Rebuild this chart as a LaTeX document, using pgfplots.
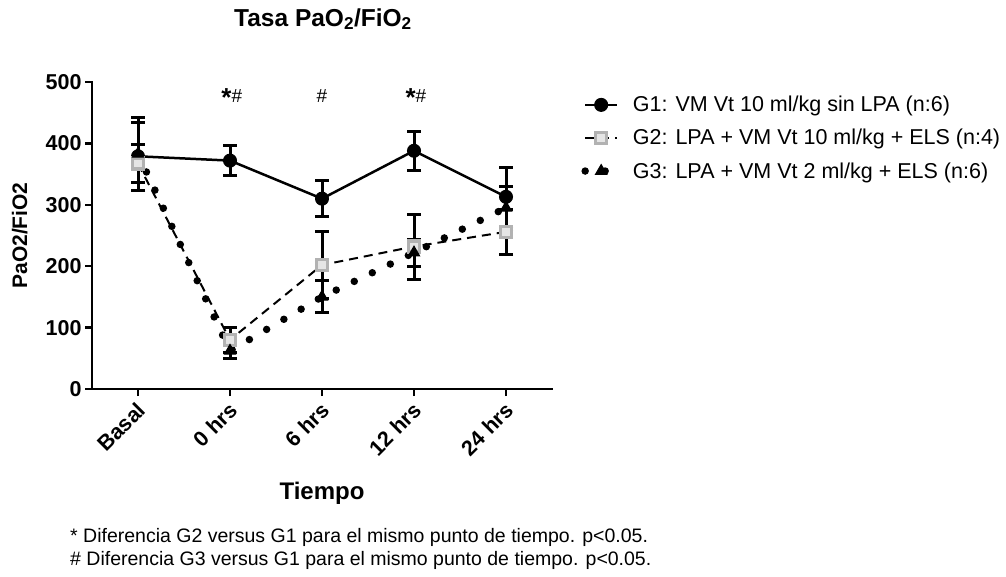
\documentclass[border=0pt]{standalone}
\usepackage{fontspec}
\setmainfont{Liberation Sans}
\usepackage{pgfplots}
\pgfplotsset{compat=1.18}

\pgfplotstableread{
x y e
0 379 55
1 372 25
2 310 29
3 388 32
4 313 48
}\gone
\pgfplotstableread{
x y e
0 367 31
1 80 20
2 202 54
3 232 53
4 256 37
}\gtwo
\pgfplotstableread{
x y e
0 383 60
1 62 12
2 150 26
3 222 22
4 295 35
}\gthree

\newcommand{\sig}[1]{{\fontsize{26}{26}\selectfont\bfseries *}\raisebox{4pt}{\fontsize{19}{19}\selectfont #1}}

\begin{document}
\begin{tikzpicture}[x=1pt,y=1pt]
\useasboundingbox (0,0) rectangle (1006,-576);
\begin{axis}[
  at={(92pt,-389pt)}, anchor=south west,
  scale only axis, width=460pt, height=307pt,
  xmin=-0.5, xmax=4.5, ymin=0, ymax=500,
  clip=false,
  axis lines*=left,
  axis line style={line width=2.5pt, line cap=rect},
  tick align=outside, major tick length=7pt,
  every tick/.style={black, line width=2.5pt},
  xtick={0,1,2,3,4},
  xticklabels={Basal,0 hrs,6 hrs,12 hrs,24 hrs},
  ytick={0,100,200,300,400,500},
  /pgf/number format/assume math mode=true,
  tick label style={font=\fontsize{21.5}{21.5}\selectfont\bfseries},
  xticklabel style={rotate=45, anchor=north east, inner sep=2pt, xshift=-3pt},
  xlabel={Tiempo},
  ylabel={PaO2/FiO2},
  label style={font=\fontsize{24}{24}\selectfont\bfseries},
  xlabel style={at={(axis description cs:0.5,-0.339)}, anchor=center},
  ylabel style={at={(axis description cs:-0.157,0.5)}, anchor=center, font=\fontsize{21}{21}\selectfont\bfseries},
  legend style={at={(axis description cs:1.057,0.967)}, anchor=north west,
    draw=none, fill=none, font=\fontsize{21.5}{26}\selectfont, row sep=12pt,
    /tikz/every odd column/.append style={column sep=10pt}},
  legend cell align=left,
  legend image code/.code={\draw[mark repeat=2,mark phase=2,#1] plot coordinates {(0pt,0pt) (16pt,0pt) (32pt,0pt)};},
]
\addplot[black, line width=2.5pt, mark=*, mark size=6.5pt,
  mark options={solid, line width=1pt},
  error bars/.cd, y dir=both, y explicit,
  error bar style={solid, line width=3pt},
  error mark options={rotate=90, mark size=7pt, line width=3pt, solid}]
  table[x=x, y=y, y error=e] {\gone};
\addlegendentry{G1: VM Vt 10 ml/kg sin LPA (n:6)}

\addplot[black, line width=2pt, dash pattern=on 9pt off 6pt,
  mark=square*, mark size=5.5pt,
  mark options={solid, draw=gray!60, fill=gray!20, line width=3.5pt},
  error bars/.cd, y dir=both, y explicit,
  error bar style={solid, line width=3pt},
  error mark options={rotate=90, mark size=7pt, line width=3pt, solid}]
  table[x=x, y=y, y error=e] {\gtwo};
\addlegendentry{G2: LPA + VM Vt 10 ml/kg + ELS (n:4)}

\addplot[black, line width=7.5pt, line cap=round, dash pattern=on 0pt off 20pt,
  mark=triangle*, mark size=6.5pt,
  mark options={solid, line width=1pt, line cap=butt},
  error bars/.cd, y dir=both, y explicit,
  error bar style={solid, line width=3pt, line cap=butt},
  error mark options={rotate=90, mark size=7pt, line width=3pt, solid, line cap=butt}]
  table[x=x, y=y, y error=e] {\gthree};
\addlegendentry{G3: LPA + VM Vt 2 ml/kg + ELS (n:6)}

\node at (axis cs:1.02,474) {\sig{\#}};
\node at (axis cs:2,474) {\raisebox{4pt}{\fontsize{19}{19}\selectfont\#}};
\node at (axis cs:3.02,474) {\sig{\#}};
\end{axis}
\node at (323,-19) {\fontsize{24.5}{24.5}\selectfont\bfseries Tasa PaO\textsubscript{2}/FiO\textsubscript{2}};
\node[anchor=west, inner sep=0pt] at (70,-537) {\fontsize{19.5}{19.5}\selectfont * Diferencia G2 versus G1 para el mismo punto de tiempo. p<0.05.};
\node[anchor=west, inner sep=0pt] at (70,-560) {\fontsize{19.5}{19.5}\selectfont \# Diferencia G3 versus G1 para el mismo punto de tiempo. p<0.05.};
\end{tikzpicture}
\end{document}
